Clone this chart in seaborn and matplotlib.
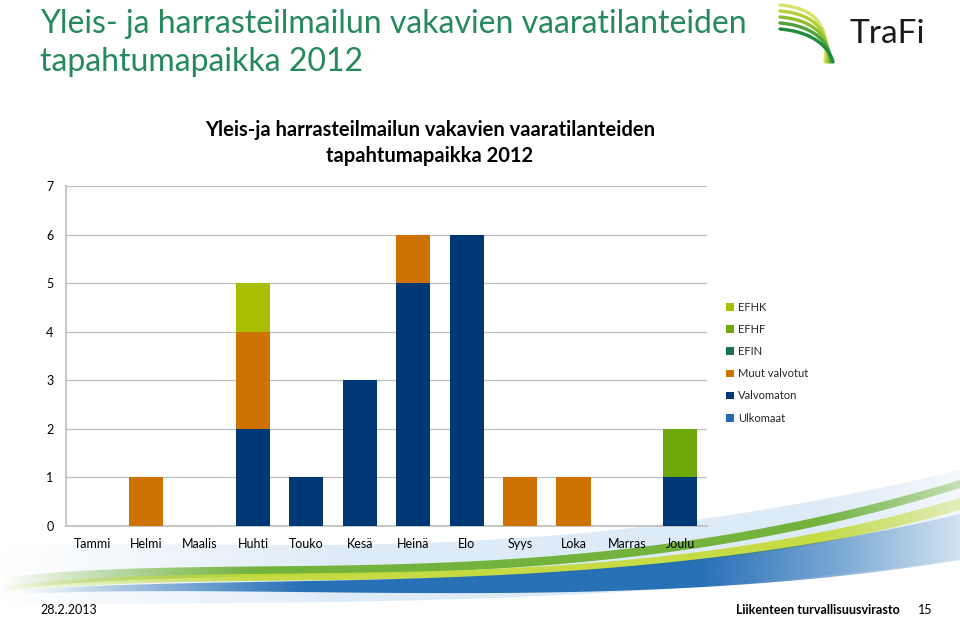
import numpy as np
import pandas as pd
import matplotlib
matplotlib.use("Agg")
import matplotlib.pyplot as plt
from matplotlib.patches import Patch, Polygon
from matplotlib.colors import to_rgb
import seaborn as sns

months = ["Tammi", "Helmi", "Maalis", "Huhti", "Touko", "Kesä",
          "Heinä", "Elo", "Syys", "Loka", "Marras", "Joulu"]
ulkomaat = [0, 0, 0, 0, 0, 0, 0, 0, 0, 0, 0, 0]
valvomaton = [0, 0, 0, 2, 1, 3, 5, 6, 0, 0, 0, 1]
muut_valvotut = [0, 1, 0, 2, 0, 0, 1, 0, 1, 1, 0, 0]
efin = [0, 0, 0, 0, 0, 0, 0, 0, 0, 0, 0, 0]
efhf = [0, 0, 0, 0, 0, 0, 0, 0, 0, 0, 0, 1]
efhk = [0, 0, 0, 1, 0, 0, 0, 0, 0, 0, 0, 0]

series = [
    ("Ulkomaat", ulkomaat, "#1F6BB5"),
    ("Valvomaton", valvomaton, "#003876"),
    ("Muut valvotut", muut_valvotut, "#CE7204"),
    ("EFIN", efin, "#1A6E57"),
    ("EFHF", efhf, "#6EA70A"),
    ("EFHK", efhk, "#A9BE00"),
]

sns.set_theme(style="white")
plt.rcParams["font.family"] = ["Lato", "DejaVu Sans"]

W, H = 960, 617
fig = plt.figure(figsize=(W / 100, H / 100), dpi=100)


def bez(p0, p1, p2, p3, n=200):
    t = np.linspace(0, 1, n)[:, None]
    p0, p1, p2, p3 = map(np.array, (p0, p1, p2, p3))
    return (1 - t) ** 3 * p0 + 3 * (1 - t) ** 2 * t * p1 + 3 * (1 - t) * t ** 2 * p2 + t ** 3 * p3


# background decoration (slide swooshes and logo)
bg = fig.add_axes([0, 0, 1, 1], zorder=0)
bg.set_xlim(0, W)
bg.set_ylim(H, 0)
bg.axis("off")


def band(upper, lower, color, alpha, fade=(0, 350), fade_out=(820, 960, 0.35)):
    a = bez(*upper)
    b = bez(*lower)[::-1]
    poly = Polygon(np.vstack([a, b]), closed=True, facecolor="none", lw=0)
    bg.add_patch(poly)
    x = np.arange(W)
    ramp = np.clip((x - fade[0]) / (fade[1] - fade[0]), 0, 1)
    out = 1 - (1 - fade_out[2]) * np.clip((x - fade_out[0]) / (fade_out[1] - fade_out[0]), 0, 1)
    img = np.zeros((2, W, 4))
    img[..., :3] = to_rgb(color)
    img[..., 3] = ramp * out * alpha
    im = bg.imshow(img, extent=(0, W, H, 0), aspect="auto", interpolation="bilinear")
    im.set_clip_path(poly)


band([(0, 547), (250, 535), (520, 575), (960, 470)], [(0, 605), (250, 600), (560, 612), (960, 560)], "#BCD7EE", 0.5)
band([(0, 578), (240, 548), (560, 602), (960, 480)], [(0, 591), (240, 558), (580, 608), (960, 488)], "#6DB033", 0.95, (0, 250))
band([(0, 586), (250, 556), (600, 605), (960, 498)], [(0, 593), (250, 563), (610, 611), (960, 510)], "#C5DB3A", 0.95, (0, 250))
band([(20, 590), (280, 572), (600, 599), (960, 514)], [(20, 594), (280, 582), (620, 615), (960, 560)], "#1E6AB4", 0.95,
     (20, 300), (700, 960, 0.15))

for i, c in enumerate(["#D7E36A", "#B5CF3A", "#8DBE2E", "#4FA33A", "#1E8A3C"]):
    off = i * 6
    arc = bez((780, 5 + off), (815, 8 + off), (830, 25 + off), (825 + i * 2, 62))
    bg.plot(arc[:, 0], arc[:, 1], color=c, lw=2.4, solid_capstyle="round")
bg.text(850, 34, "TraFi", fontsize=24, color="#1A1A1A", va="center", ha="left")

fig.text(40 / W, 1 - 43 / H, "Yleis- ja harrasteilmailun vakavien vaaratilanteiden\ntapahtumapaikka 2012",
         fontsize=23, color="#24895B", va="center", ha="left", linespacing=1.35)
fig.text(430 / W, 1 - 143 / H, "Yleis-ja harrasteilmailun vakavien vaaratilanteiden\ntapahtumapaikka 2012",
         fontsize=14.5, fontweight="bold", color="black", va="center", ha="center", linespacing=1.32)
fig.text(40 / W, 1 - 610 / H, "28.2.2013", fontsize=9, color="black", va="center", ha="left")
fig.text(900 / W, 1 - 610 / H, "Liikenteen turvallisuusvirasto", fontsize=9, fontweight="bold",
         color="black", va="center", ha="right")
fig.text(925 / W, 1 - 610 / H, "15", fontsize=9, color="black", va="center", ha="center")

# chart
ax = fig.add_axes([66 / W, 1 - 526 / H, (707 - 66) / W, (526 - 186) / H], zorder=1)
ax.patch.set_alpha(0)
bottom = np.zeros(len(months))
for name, vals, color in series:
    sns.barplot(x=months, y=vals, bottom=bottom, color=color, width=0.64,
                saturation=1, linewidth=0, edgecolor="none", ax=ax, zorder=3)
    bottom = bottom + np.array(vals)

ax.set_ylim(0, 7)
ax.set_yticks(range(8))
ax.yaxis.grid(True, color="#BFBFBF", lw=0.9, zorder=0)
ax.set_axisbelow(True)
for s in ["top", "right"]:
    ax.spines[s].set_visible(False)
ax.spines["left"].set_color("#BFBFBF")
ax.spines["bottom"].set_color("#BFBFBF")
ax.tick_params(axis="both", length=0, labelsize=9, colors="black")
ax.tick_params(axis="x", pad=9)
ax.tick_params(axis="y", pad=9)
ax.set_xlabel("")
ax.set_ylabel("")

handles = [Patch(facecolor=c, edgecolor="none", label=n) for n, _, c in series[::-1]]
fig.legend(handles=handles, loc="upper left", bbox_to_anchor=(726 / W, 1 - 302 / H), frameon=False,
           fontsize=8, handlelength=0.7, handleheight=0.7, labelspacing=1.0, handletextpad=0.4,
           borderaxespad=0, borderpad=0)

fig.savefig("out.png", dpi=100)
